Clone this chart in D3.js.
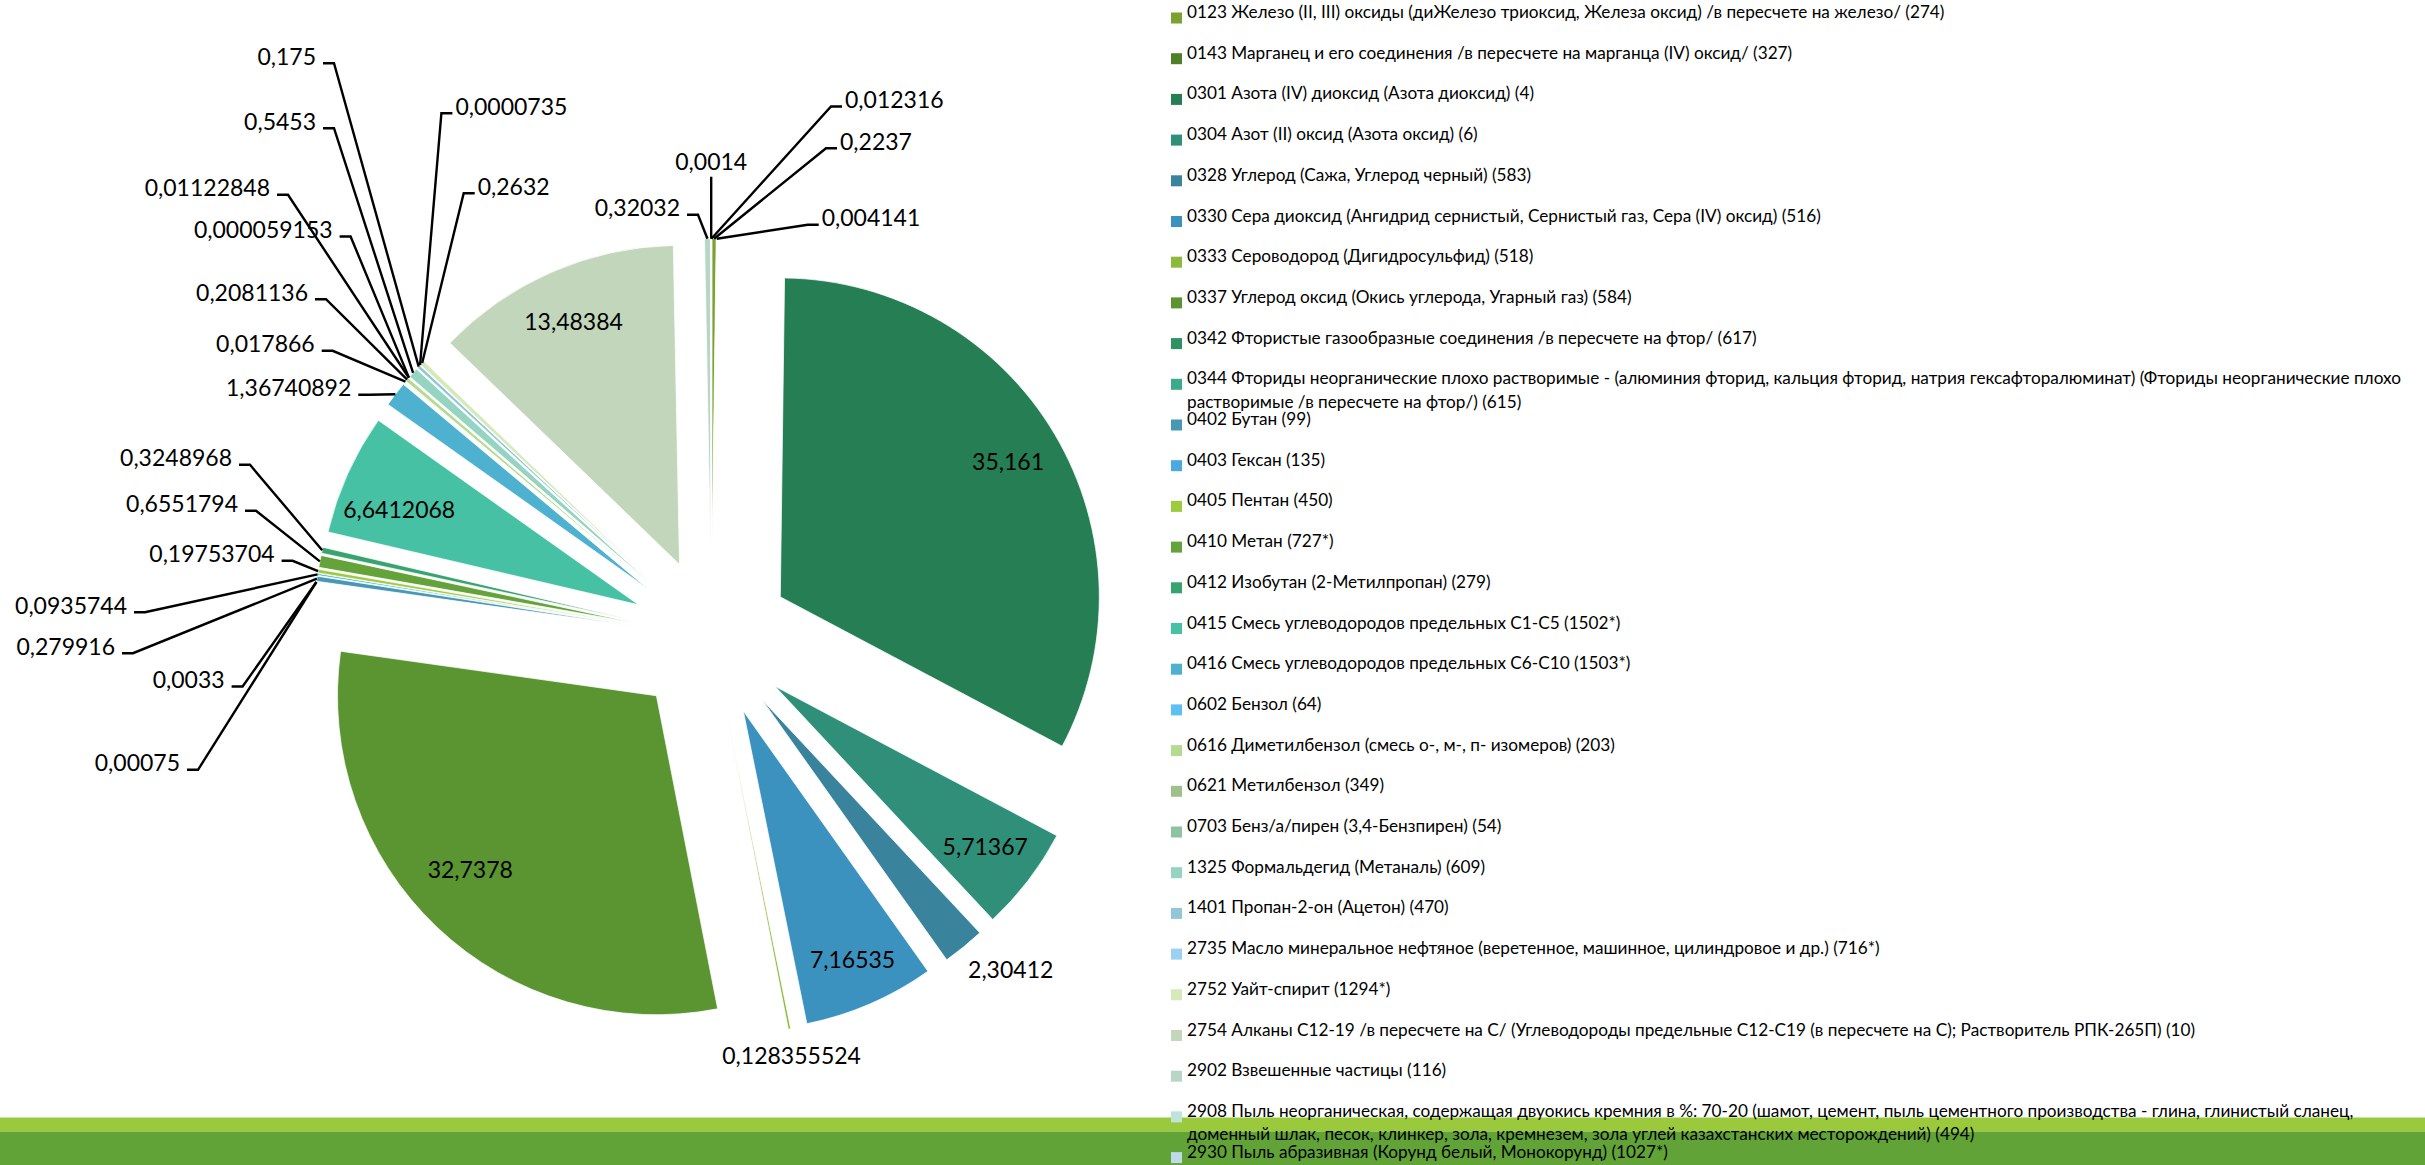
<!DOCTYPE html>
<html><head><meta charset="utf-8">
<script src="https://cdn.jsdelivr.net/npm/d3@7"></script>
<style>html,body{margin:0;padding:0;background:#fff;overflow:hidden}svg{display:block}</style>
</head><body>
<svg id="chart" width="2425" height="1165"></svg>
<script>
// ---------------- DATA ----------------
const categories = [
"0123 Железо (II, III) оксиды (диЖелезо триоксид, Железа оксид) /в пересчете на железо/ (274)",
"0143 Марганец и его соединения /в пересчете на марганца (IV) оксид/ (327)",
"0301 Азота (IV) диоксид (Азота диоксид) (4)",
"0304 Азот (II) оксид (Азота оксид) (6)",
"0328 Углерод (Сажа, Углерод черный) (583)",
"0330 Сера диоксид (Ангидрид сернистый, Сернистый газ, Сера (IV) оксид) (516)",
"0333 Сероводород (Дигидросульфид) (518)",
"0337 Углерод оксид (Окись углерода, Угарный газ) (584)",
"0342 Фтористые газообразные соединения /в пересчете на фтор/ (617)",
"0344 Фториды неорганические плохо растворимые - (алюминия фторид, кальция фторид, натрия гексафторалюминат) (Фториды неорганические плохо растворимые /в пересчете на фтор/) (615)",
"0402 Бутан (99)",
"0403 Гексан (135)",
"0405 Пентан (450)",
"0410 Метан (727*)",
"0412 Изобутан (2-Метилпропан) (279)",
"0415 Смесь углеводородов предельных С1-С5 (1502*)",
"0416 Смесь углеводородов предельных С6-С10 (1503*)",
"0602 Бензол (64)",
"0616 Диметилбензол (смесь о-, м-, п- изомеров) (203)",
"0621 Метилбензол (349)",
"0703 Бенз/а/пирен (3,4-Бензпирен) (54)",
"1325 Формальдегид (Метаналь) (609)",
"1401 Пропан-2-он (Ацетон) (470)",
"2735 Масло минеральное нефтяное (веретенное, машинное, цилиндровое и др.) (716*)",
"2752 Уайт-спирит (1294*)",
"2754 Алканы С12-19 /в пересчете на С/ (Углеводороды предельные С12-С19 (в пересчете на С); Растворитель РПК-265П) (10)",
"2902 Взвешенные частицы (116)",
"2908 Пыль неорганическая, содержащая двуокись кремния в %: 70-20 (шамот, цемент, пыль цементного производства - глина, глинистый сланец, доменный шлак, песок, клинкер, зола, кремнезем, зола углей казахстанских месторождений) (494)",
"2930 Пыль абразивная (Корунд белый, Монокорунд) (1027*)"
];

const values = [
0.2237, 0.004141, 35.161, 5.71367, 2.30412, 7.16535, 0.128355524, 32.7378,
0.00075, 0.0033, 0.279916, 0.0935744, 0.19753704, 0.6551794, 0.3248968,
6.6412068, 1.36740892,
0.017866, 0.2081136, 0.01122848, 0.000059153, 0.5453, 0.175, 0.0000735, 0.2632,
13.48384, 0.32032, 0.0014, 0.012316
];

const colors = [
"#7AA22E","#4F7F27","#267E54","#2F8F79","#3A839C","#3C92BE","#8DBA3A","#5A9532",
"#2F9263","#3CAB8B","#4698B5","#4AA9DE","#9CCB3D","#64A23A","#39A370",
"#46C1A3","#4EB1CF",
"#5BC1F1","#B6DA8F","#9EC18B","#8DC49F","#95D4C1","#93C6D9","#9CD1F3","#D5E9B9",
"#C1D6BA","#B8D6C7","#BFE2D9","#BEDAE9"
];

// ---------------- LAYOUT ----------------
const W = 2425, H = 1165;
const cx = 711.5, cy = 637.7, R = 319, explode = 80;
const labelFont = "Lato, 'Open Sans', sans-serif";
const labelSize = 23;
const innerLabelFactor = 0.83;
// label placement for data labels: "in" = inside slice (with optional nudge); otherwise [x, y(center), anchor, leader?]
const labelLayout = [
  [840, 141.7, "start", true],
  [821.7, 218.3, "start", true],
  "in", "in",
  [1010.7, 969.7, "middle", false],
  "in",
  [791.6, 1056, "middle", false],
  "in",
  [180, 763.3, "end", true],
  [224.6, 680, "end", true],
  [115, 646.7, "end", true],
  [127, 605.7, "end", true],
  [274.6, 554.3, "end", true],
  [238, 504.3, "end", true],
  [232, 458.3, "end", true],
  "in",
  [351.3, 388.3, "end", true],
  [314.7, 344.3, "end", true],
  [308, 292.7, "end", true],
  [270, 188.3, "end", true],
  [332.6, 230, "end", true],
  [316, 121.7, "end", true],
  [316, 56.7, "end", true],
  [455.4, 106.7, "start", true],
  [477.7, 186.7, "start", true],
  "in",
  [680, 208.3, "end", true],
  [null, 161.7, "middle", true],
  [845, 100, "start", true]
];
const innerNudge = {7: [-4, -18], 15: [2, 14], 5: [4, 6]};

const svg = d3.select("#chart");

// bottom decorative bands
svg.append("rect").attr("x",0).attr("y",1117.5).attr("width",W).attr("height",14).attr("fill","#9ACA3C");
svg.append("rect").attr("x",0).attr("y",1131.5).attr("width",W).attr("height",H-1131.5).attr("fill","#62A337");

// ---------------- PIE ----------------
const pie = d3.pie().sort(null).value(d => d).startAngle(0).endAngle(2*Math.PI);
const arcs = pie(values);
const arc = d3.arc().innerRadius(0).outerRadius(R);
const unit = a => [Math.sin(a), -Math.cos(a)];

const g = svg.append("g").attr("transform", `translate(${cx},${cy})`);
g.selectAll("path.slice").data(arcs).enter().append("path")
  .attr("class","slice")
  .attr("d", arc)
  .attr("transform", d => { const m=(d.startAngle+d.endAngle)/2, u=unit(m); return `translate(${u[0]*explode},${u[1]*explode})`; })
  .attr("fill", (d,i) => colors[i])
  .attr("stroke", "#fff").attr("stroke-width", 0.75);

const fmt = v => String(v).replace(".", ",");

// labels
const lab = svg.append("g").attr("font-family", labelFont).attr("font-size", labelSize).attr("fill","#000");
const lines = svg.append("g").attr("fill","none").attr("stroke","#000").attr("stroke-width",2.4);

arcs.forEach((d,i) => {
  const m = (d.startAngle+d.endAngle)/2, u = unit(m);
  const L = labelLayout[i];
  const txt = fmt(values[i]);
  if (L === "in") {
    const r = explode + innerLabelFactor*R;
    const n = innerNudge[i] || [0,0];
    lab.append("text").attr("x", cx+u[0]*r+n[0]).attr("y", cy+u[1]*r+n[1])
      .attr("text-anchor","middle").attr("dy","0.35em").text(txt);
    return;
  }
  const P = [cx+u[0]*(explode+R), cy+u[1]*(explode+R)];
  let [x, y, anchor, leader] = L;
  if (x === null) x = P[0];
  lab.append("text").attr("x", x).attr("y", y).attr("text-anchor", anchor).attr("dy","0.35em").text(txt);
  if (!leader) return;
  const sy = y + 6.5;
  let p;
  if (anchor === "end") p = d3.path(), p.moveTo(x+7, sy), p.lineTo(x+18, sy), p.lineTo(P[0], P[1]);
  else if (anchor === "start") p = d3.path(), p.moveTo(x-3, sy), p.lineTo(x-14, sy), p.lineTo(P[0], P[1]);
  else p = d3.path(), p.moveTo(P[0], y+15), p.lineTo(P[0], P[1]);
  lines.append("path").attr("d", p.toString());
});

// ---------------- LEGEND ----------------
const legX = 1171, legTextX = 1187, legY0 = 18, legStep = 40.7, legMaxW = 1233, legLine = 23.3;
const leg = svg.append("g").attr("font-family", labelFont).attr("font-size", 17.2).attr("fill","#000");
categories.forEach((c,i) => {
  const yc = legY0 + legStep*i;
  leg.append("rect").attr("x", legX).attr("y", yc-5.5).attr("width",11).attr("height",11).attr("fill", colors[i]);
  const t = leg.append("text").attr("x", legTextX).attr("y", yc).attr("dy","0.35em");
  const words = c.split(" ");
  let line = [];
  let ts = t.append("tspan").attr("x", legTextX).attr("dy", 0);
  words.forEach(w => {
    line.push(w);
    ts.text(line.join(" "));
    if (ts.node().getComputedTextLength() > legMaxW && line.length > 1) {
      line.pop(); ts.text(line.join(" "));
      line = [w];
      ts = t.append("tspan").attr("x", legTextX).attr("dy", legLine).text(w);
    }
  });
});
</script>
</body></html>
